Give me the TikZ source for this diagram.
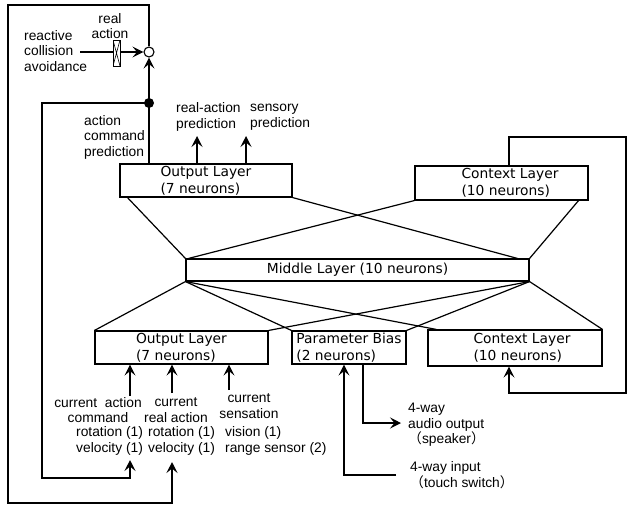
\documentclass[tikz,border=0pt]{standalone}
\usepackage{fontspec}
\setmainfont{Liberation Sans}
\newfontfamily\boxfont{DejaVu Sans}
\newfontfamily\cjk{Noto Sans CJK JP}
\usetikzlibrary{arrows.meta,calc}

\tikzset{
  layer/.style={draw, line width=1.1pt, fill=white, inner xsep=2pt, inner ysep=1pt,
    align=left, font={\boxfont\fontsize{13.8}{17}\selectfont}},
  lbl/.style={inner sep=0pt, font={\fontsize{13.8}{15.5}\selectfont}},
  wire/.style={line width=1.2pt},
  arr/.style={wire, -{Stealth[length=11pt,width=11pt,inset=4.5pt]}},
  gatebox/.style={draw, fill=white, line width=0.9pt, minimum width=7pt, minimum height=26pt,
    inner sep=0pt, path picture={\draw[line width=0.6pt]
      (path picture bounding box.north west) -- (path picture bounding box.south east)
      (path picture bounding box.north east) -- (path picture bounding box.south west);}},
}

\begin{document}
\begin{tikzpicture}[x=1pt, y=-1pt]

    % Fix the page to the size of the picture
    \useasboundingbox (0,0) rectangle (628,506);

    % Upper layers
    \node[layer, minimum width=172pt, minimum height=33pt] (outU) at (206,180.5) {Output Layer\\(7 neurons)};
    \node[layer, minimum width=173pt, minimum height=34pt] (ctxU) at (501.5,183)
      {\hspace*{17pt}Context Layer\\\hspace*{17pt}(10 neurons)};

    % Middle layer
    \node[layer, align=center, minimum width=343pt, minimum height=22pt] (mid) at (357.5,270) {Middle Layer (10 neurons)};

    % Lower layers
    \node[layer, minimum width=173pt, minimum height=33pt] (outL) at (181.5,347.5) {Output Layer\\(7 neurons)};
    \node[layer, minimum width=114pt, minimum height=33pt] (pb) at (349,347.5) {Parameter Bias\\(2 neurons)};
    \node[layer, minimum width=174pt, minimum height=36pt] (ctxL) at (515,348)
      {\hspace*{14pt}Context Layer\\\hspace*{14pt}(10 neurons)};

    % Full connections between the layers
    \draw[wire] ($(outU.south west)+(8,0)$) -- (mid.north west);
    \draw[wire] (outU.south east) -- ($(mid.north east)+(-12,0)$);
    \draw[wire] (ctxU.south west) -- ($(mid.north west)+(3,0)$);
    \draw[wire] ($(ctxU.south east)+(-10,0)$) -- (mid.north east);
    \draw[wire] (mid.south west) -- (outL.north west);
    \draw[wire] (mid.south west) -- (pb.north west);
    \draw[wire] (mid.south west) -- ($(ctxL.north west)+(9,0)$);
    \draw[wire] (mid.south east) -- (outL.north east);
    \draw[wire] (mid.south east) -- (pb.north east);
    \draw[wire] (mid.south east) -- (ctxL.north east);

    % Summing point and branch point
    \node[circle, draw, fill=white, line width=1.1pt, minimum size=10pt, inner sep=0pt] (sum) at (149,52) {};
    \node[circle, fill, minimum size=10pt, inner sep=0pt] (split) at (149,103) {};

    % Corners of the two feedback loops
    \coordinate (topL) at (8,5);
    \coordinate (botL) at (8,503);
    \coordinate (innerTop) at (42,103);
    \coordinate (innerBot) at (42,478);
    \coordinate (fbReal) at (172,462);
    \coordinate (fbCmd) at (130,460);

    % Real action goes back to the input
    \draw[arr] (sum.north) |- (topL) -- (botL) -| (fbReal);
    % Predicted action command goes back to the input
    \draw[arr] (split.center) -- (innerTop) -- (innerBot) -| (fbCmd);
    \draw[arr] (split.center) -- (sum.south);
    \draw[wire] (split.center) -- (split |- outU.north);

    % Reactive collision avoidance through the gate
    \coordinate (react) at (80,52);
    \draw[arr] (react) -- (sum.west);
    \node[gatebox] (gate) at (116.5,53) {};

    % Predictions out of the upper output layer
    \coordinate (predA) at (197,136);
    \coordinate (predS) at (246,136);
    \draw[arr] (predA |- outU.north) -- (predA);
    \draw[arr] (predS |- outU.north) -- (predS);

    % Inputs into the lower output layer
    \coordinate (inCmd) at (130,396);
    \coordinate (inReal) at (172,393);
    \coordinate (inSens) at (229,390);
    \draw[arr] (inCmd) -- (inCmd |- outL.south);
    \draw[arr] (inReal) -- (inReal |- outL.south);
    \draw[arr] (inSens) -- (inSens |- outL.south);

    % Parameter bias in and out
    \coordinate (touch) at (396,475);
    \coordinate (spk) at (401,423);
    \draw[arr] (touch) -| ($(pb.south)+(-5,0)$);
    \draw[arr] ($(pb.south)+(14,0)$) |- (spk);

    % Context loop
    \coordinate (ctxOut) at (509,166);
    \coordinate (ctxTop) at (509,137);
    \coordinate (ctxR1) at (626,137);
    \coordinate (ctxR2) at (626,393);
    \coordinate (ctxBot) at (509,393);
    \draw[arr] (ctxOut) -- (ctxTop) -- (ctxR1) -- (ctxR2) -- (ctxBot) -- (ctxBot |- ctxL.south);

    % Labels
    \node[lbl, align=center] (realAct) at (110,26) {real\\action};
    \node[lbl, align=left, anchor=west] (reactTxt) at (24,51) {reactive\\collision\\avoidance};
    \node[lbl, align=left, anchor=west] (cmdPred) at (84,137) {action\\command\\prediction};
    \node[lbl, align=left, anchor=west] (rapTxt) at (176,117) {real-action\\prediction};
    \node[lbl, align=left, anchor=west] (spTxt) at (250,117) {sensory\\prediction};

    \node[lbl, align=center] (hdCmd) at (98,410) {current\ \ action\\command};
    \node[lbl, align=left, anchor=west] (valCmd) at (76,441) {rotation (1)\\velocity (1)};
    \node[lbl, align=center] (hdReal) at (176,410) {current\\real action};
    \node[lbl, align=left, anchor=west] (valReal) at (148,441) {rotation (1)\\velocity (1)};
    \node[lbl, align=center] (hdSens) at (249,406) {current\\sensation};
    \node[lbl, align=left, anchor=west] (valSens) at (225,441) {vision (1)\\range sensor (2)};

    \node[lbl, align=left, anchor=west] (spkTxt) at (408,425) {4-way\\audio output\\{\cjk （}speaker{\cjk ）}};
    \node[lbl, align=left, anchor=west] (touchTxt) at (410,475) {4-way input\\{\cjk （}touch switch{\cjk ）}};

\end{tikzpicture}
\end{document}
